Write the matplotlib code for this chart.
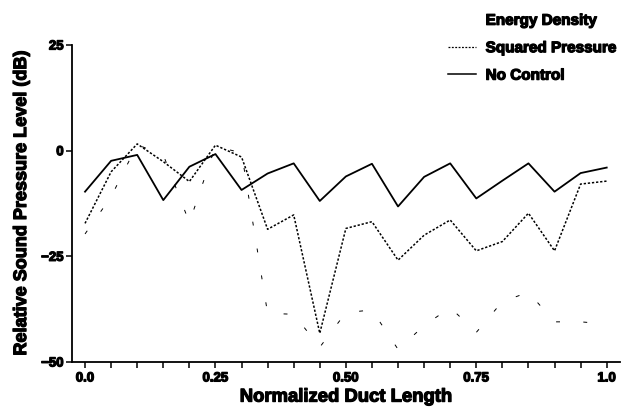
import numpy as np
import matplotlib.pyplot as plt
import matplotlib.patheffects as pe
from matplotlib.lines import Line2D

# normalized positions along the duct
x = [0.0, 0.05, 0.1, 0.15, 0.2, 0.25, 0.3, 0.35, 0.4, 0.45, 0.5,
     0.55, 0.6, 0.65, 0.7, 0.75, 0.8, 0.85, 0.9, 0.95, 1.0]

no_control = [-9.7, -2.4, -1.0, -11.7, -3.8, -0.8, -9.3, -5.4, -3.0, -11.9, -6.1,
              -3.1, -13.2, -6.2, -3.0, -11.3, -7.1, -3.0, -9.7, -5.3, -4.0]
squared_pressure = [-17.2, -5.0, 1.6, -2.6, -7.3, 1.3, -1.5, -18.6, -15.2, -43.2, -18.4,
                    -16.8, -25.9, -20.0, -16.4, -23.7, -21.5, -14.8, -23.7, -7.9, -7.2]
energy_density = [-19.7, -10.9, 1.4, -1.0, -17.0, 1.0, -0.5, -38.5, -38.7, -46.5, -38.3,
                  -37.7, -47.0, -41.4, -37.1, -43.0, -35.7, -33.5, -40.5, -40.5, -41.0]

xticks = [0.0, 0.25, 0.5, 0.75, 1.0]
xticklabels = ["0.0", "0.25", "0.50", "0.75", "1.0"]
yticks = [-50, -25, 0, 25]


def main():
    plt.rcParams['font.family'] = ['Liberation Sans', 'DejaVu Sans']
    plt.rcParams['font.weight'] = 'bold'
    heavy = [pe.withStroke(linewidth=0.9, foreground="black")]

    fig = plt.figure(figsize=(6.26, 4.13), dpi=100)
    ax = fig.add_axes([0.115, 0.1235, 0.875, 0.7675])

    ax.plot(x, energy_density, color="black", linewidth=0.7, dashes=(4, 24))
    ax.plot(x, squared_pressure, color="black", linewidth=1.1, dashes=(1.5, 1.2))
    ax.plot(x, no_control, color="black", linewidth=1.3)

    ax.set_xlim(-0.025, 1.025)
    ax.set_ylim(-50, 25)
    ax.set_xticks(xticks)
    ax.set_xticklabels(xticklabels)
    ax.set_xticks(np.arange(0, 1.001, 0.05), minor=True)
    ax.set_yticks(yticks)

    for s in ["top", "right"]:
        ax.spines[s].set_visible(False)
    for s in ["left", "bottom"]:
        ax.spines[s].set_linewidth(1.3)
    ax.tick_params(which="both", direction="out", length=4, width=1.1,
                   labelsize=9.5)
    ax.tick_params(axis="y", pad=2)
    for t in ax.get_xticklabels() + ax.get_yticklabels():
        t.set_path_effects(heavy)

    ax.set_xlabel("Normalized Duct Length", fontsize=13.3, fontweight="bold",
                  labelpad=3, path_effects=heavy)
    ax.set_ylabel("Relative Sound Pressure Level (dB)", fontsize=13,
                  fontweight="bold", labelpad=8, path_effects=heavy)

    handles = [Line2D([], [], color="none"),
               Line2D([], [], color="black", linewidth=0.9, dashes=(1.5, 1.2)),
               Line2D([], [], color="black", linewidth=1.1)]
    labels = ["Energy Density", "Squared Pressure", "No Control"]
    leg = fig.legend(handles, labels, loc="upper left", bbox_to_anchor=(0.694, 1.0),
                     frameon=False, prop={"size": 11, "weight": "bold"},
                     handlelength=1.85, handletextpad=0.6, labelspacing=0.88)
    for t in leg.get_texts():
        t.set_path_effects(heavy)

    fig.savefig("out.png", dpi=100)


if __name__ == '__main__': main()
